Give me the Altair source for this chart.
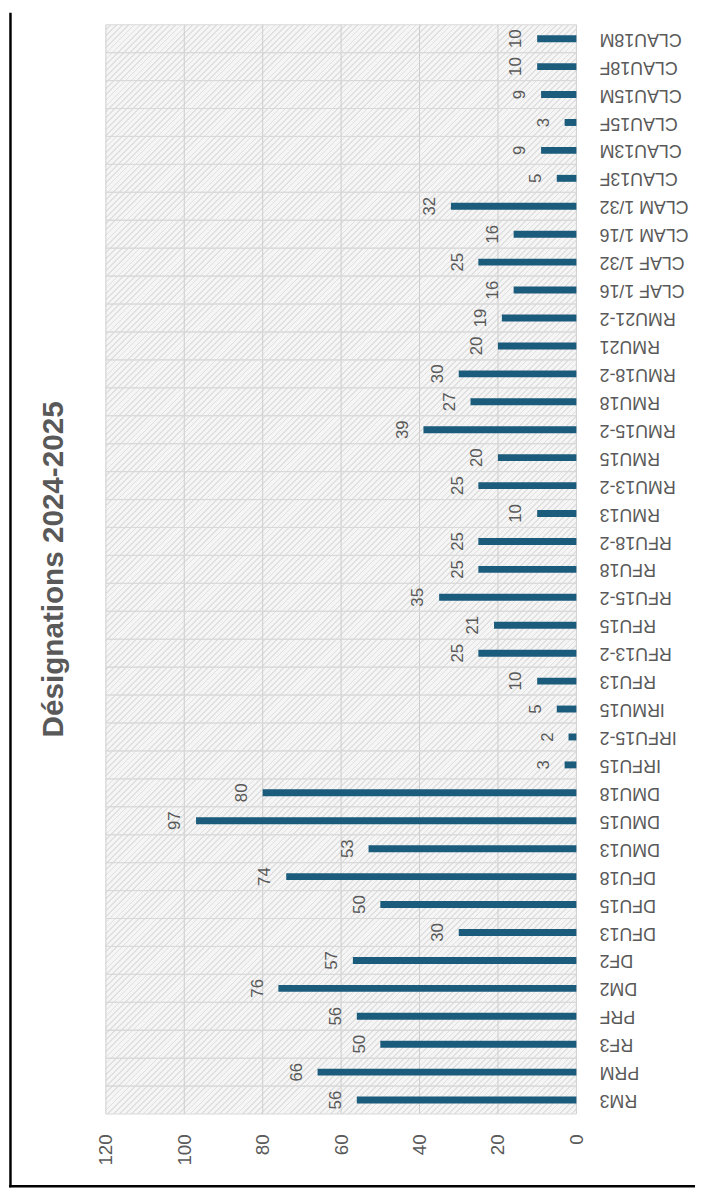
import math
import altair as alt
import pandas as pd

# ---- data ----
categories = ["RM3", "PRM", "RF3", "PRF", "DM2", "DF2", "DFU13", "DFU15", "DFU18",
              "DMU13", "DMU15", "DMU18", "IRFU15", "IRFU15-2", "IRMU15", "RFU13",
              "RFU13-2", "RFU15", "RFU15-2", "RFU18", "RFU18-2", "RMU13", "RMU13-2",
              "RMU15", "RMU15-2", "RMU18", "RMU18-2", "RMU21", "RMU21-2", "CLAF 1/16",
              "CLAF 1/32", "CLAM 1/16", "CLAM 1/32", "CLAU13F", "CLAU13M", "CLAU15F",
              "CLAU15M", "CLAU18F", "CLAU18M"]
values = [56, 66, 50, 56, 76, 57, 30, 50, 74, 53, 97, 80, 3, 2, 5, 10, 25, 21, 35,
          25, 25, 10, 25, 20, 39, 27, 30, 20, 19, 16, 25, 16, 32, 5, 9, 3, 9, 10, 10]
axis_ticks = [0, 20, 40, 60, 80, 100, 120]
title_text = "Désignations 2024-2025"

df = pd.DataFrame({"cat": categories, "val": values})
ticks_df = pd.DataFrame({"v": axis_ticks})
order = list(reversed(categories))

W, H = 476, 1102
FONT = "Liberation Sans"
GRAY = "#595959"
BAR = "#1b5b7b"

# ---- hatch background (light upward diagonal), as a linear gradient ----
k = (W + H) / (W * W + H * H)
period = 4.2 * math.sqrt(2) / (W + H)
stops = []
s = 0.0
bg, ln = "#f5f5f5", "#e0e0e0"
while s < 1.0:
    a = min(1.0, s + 0.70 * period)
    b = min(1.0, s + period)
    stops += [{"offset": round(s, 5), "color": bg}, {"offset": round(a, 5), "color": bg},
              {"offset": round(a, 5), "color": ln}, {"offset": round(b, 5), "color": ln}]
    s += period
hatch = {"gradient": "linear", "x1": 0, "y1": 0, "x2": k * W, "y2": k * H, "stops": stops}

one = alt.Data(values=[{}])

bg_rect = alt.Chart(one).mark_rect(color=hatch).encode(
    x=alt.value(0), x2=alt.value({"expr": "width"}),
    y=alt.value(0), y2=alt.value({"expr": "height"}))

xscale = alt.Scale(domain=[0, 120], reverse=True, nice=False)
yscale = alt.Scale(paddingInner=0, paddingOuter=0)

vgrid = alt.Chart(ticks_df).mark_rule(color="#cccccc", strokeWidth=1).encode(
    x=alt.X("v:Q", scale=xscale),
    y=alt.value(0), y2=alt.value({"expr": "height"}))

hgrid0 = alt.Chart(df).mark_rule(color="#d9d9d9", strokeWidth=1).encode(
    y=alt.Y("cat:N", sort=order, bandPosition=0),
    x=alt.value(0), x2=alt.value({"expr": "width"}))
hgrid1 = alt.Chart(df).mark_rule(color="#d9d9d9", strokeWidth=1).encode(
    y=alt.Y("cat:N", sort=order, bandPosition=1),
    x=alt.value(0), x2=alt.value({"expr": "width"}))

bars = alt.Chart(df).mark_bar(size=7, color=BAR).encode(
    x=alt.X("val:Q", scale=xscale, title=None,
            axis=alt.Axis(values=axis_ticks, labelAngle=270, labelAlign="right",
                          labelBaseline="middle", labelPadding=20, ticks=False,
                          domain=False, grid=False, labelFontSize=19,
                          labelColor=GRAY, labelFont=FONT, labelOverlap=False,
                          labelFlush=False)),
    y=alt.Y("cat:N", sort=order, scale=yscale, title=None,
            axis=alt.Axis(orient="right", labelAngle=180, labelAlign="right",
                          labelBaseline="middle", labelPadding=23, ticks=False,
                          domain=False, grid=False, labelFontSize=18,
                          labelColor=GRAY, labelFont=FONT, labelOverlap=False)))

labels = alt.Chart(df).mark_text(angle=270, align="center", baseline="alphabetic",
                                 dy=-16, fontSize=17, color=GRAY, font=FONT).encode(
    x=alt.X("val:Q", scale=xscale),
    y=alt.Y("cat:N", sort=order),
    text=alt.Text("val:Q"))

# frame lines of the original screenshot (left and bottom)
left_border = alt.Chart(one).mark_rule(color="#000000", strokeWidth=2.5).encode(
    x=alt.value(-96.5), y=alt.value(-12), y2=alt.value(1176))
bottom_border = alt.Chart(one).mark_rule(color="#000000", strokeWidth=2.5).encode(
    x=alt.value(-98), x2=alt.value(600), y=alt.value(1175))

chart = alt.layer(bg_rect, vgrid, hgrid0, hgrid1, bars, labels, left_border, bottom_border).properties(
    width=W, height=H,
    padding={"left": 99, "top": 10, "right": 120, "bottom": 76},
    autosize=alt.AutoSizeParams(type="none"),
    title=alt.TitleParams(title_text, orient="left", anchor="middle", frame="group",
                          fontSize=30, fontWeight="bold", color=GRAY, font=FONT,
                          offset=-62),
).configure_view(stroke=None)

chart.save("out.html", embed_options={"renderer": "svg", "actions": False})
